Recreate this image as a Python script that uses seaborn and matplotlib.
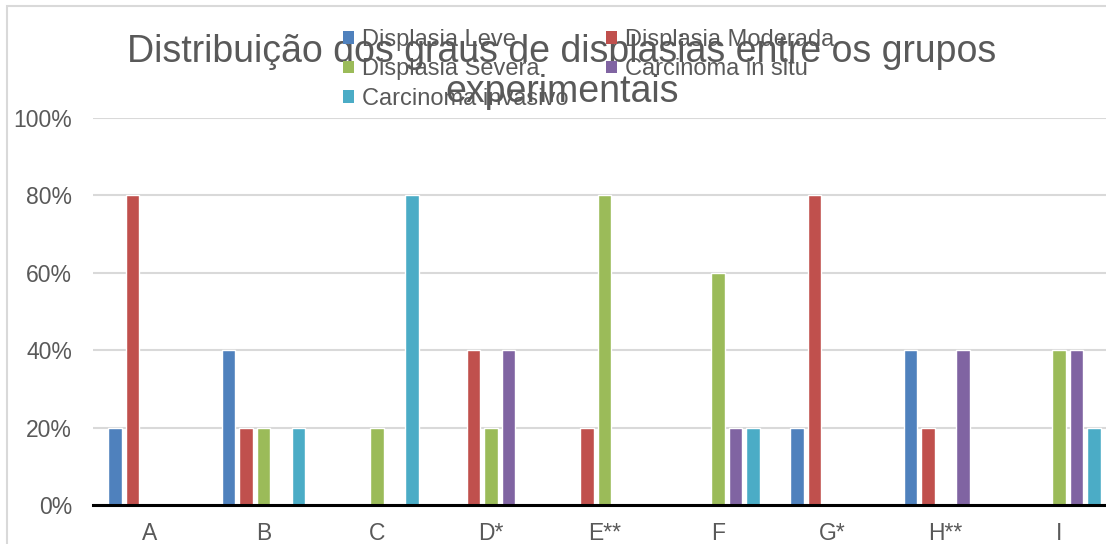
import numpy as np
import pandas as pd
import matplotlib
matplotlib.use("Agg")
import matplotlib.pyplot as plt
import seaborn as sns
from matplotlib.patches import Rectangle, Patch
from matplotlib.ticker import PercentFormatter

categories = ["A", "B", "C", "D*", "E**", "F", "G*", "H**", "I"]
series = ["Displasia Leve", "Displasia Moderada", "Displasia Severa",
          "Carcinoma in situ", "Carcinoma invasivo"]
leve = [20, 40, 0, 0, 0, 0, 20, 40, 0]
moderada = [80, 20, 0, 40, 20, 0, 80, 20, 0]
severa = [0, 20, 20, 20, 80, 60, 0, 0, 40]
cis = [0, 0, 0, 40, 0, 20, 0, 40, 40]
invasivo = [0, 20, 80, 0, 0, 20, 0, 0, 20]
colors = ["#4F81BD", "#C0504D", "#9BBB59", "#8064A2", "#4BACC6"]
title = "Distribuição dos graus de displasias entre os grupos\nexperimentais"

sns.set_theme(style="white")
plt.rcParams["font.family"] = ["Liberation Sans", "DejaVu Sans"]

rows = []
for name, vals in zip(series, [leve, moderada, severa, cis, invasivo]):
    for c, v in zip(categories, vals):
        rows.append({"grupo": c, "serie": name, "valor": v / 100.0})
df = pd.DataFrame(rows)

W, H = 1106, 544
fig = plt.figure(figsize=(W / 100, H / 100), dpi=100)
ax = fig.add_axes([93 / W, (H - 505) / H, (1116 - 93) / W, (505 - 118) / H])

sns.barplot(data=df, x="grupo", y="valor", hue="serie", order=categories,
            hue_order=series, palette=colors, width=0.77, gap=0.23,
            saturation=1, errorbar=None, ax=ax, legend=False)

ax.set_ylim(0, 1.0)
ax.set_xlim(-0.5, len(categories) - 0.5)
ax.set_yticks(np.arange(0, 1.01, 0.2))
ax.yaxis.set_major_formatter(PercentFormatter(1.0, decimals=0))
ax.grid(axis="y", color="#D9D9D9", linewidth=1.5)
ax.set_axisbelow(True)
for s in ["top", "right", "left"]:
    ax.spines[s].set_visible(False)
ax.spines["bottom"].set_color("black")
ax.spines["bottom"].set_linewidth(2.2)
ax.spines["bottom"].set_zorder(5)
ax.set_xlabel("")
ax.set_ylabel("")
ax.tick_params(axis="y", length=0, pad=15, labelsize=16.5, labelcolor="#595959")
ax.tick_params(axis="x", length=0, pad=12, labelsize=16.5, labelcolor="#595959")

# chart border
fig.patches.append(Rectangle((7 / W, -0.1), 1.2, 1 - 6 / H + 0.1,
                             transform=fig.transFigure, fill=False,
                             edgecolor="#D9D9D9", linewidth=1.5))

fig.text(562 / W, 1 - 72 / H, title, ha="center", va="center",
         fontsize=27, color="#595959", linespacing=1.15)

handles = [Patch(facecolor=c, edgecolor="none") for c in colors]
order = [0, 2, 4, 1, 3]
fig.legend([handles[i] for i in order], [series[i] for i in order],
           loc="upper left", bbox_to_anchor=(343 / W, 1 - 29 / H),
           ncol=2, frameon=False, fontsize=17, labelcolor="#595959",
           handlelength=0.45, handleheight=0.45, handletextpad=0.35,
           columnspacing=1.6, labelspacing=0.31, borderpad=0, borderaxespad=0)

fig.savefig("out.png", dpi=100)
